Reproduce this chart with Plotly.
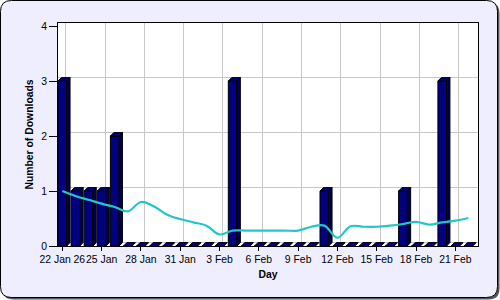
import plotly.graph_objects as go
import pandas as pd

# ---------------- data ----------------
days = pd.date_range("2026-01-22", "2026-02-22", freq="D")
downloads = [3, 1, 1, 1, 2,
             0, 0, 0, 0, 0, 0, 0, 0,
             3,
             0, 0, 0, 0, 0, 0,
             1,
             0, 0, 0, 0, 0,
             1,
             0, 0,
             3,
             0, 0]
trend = [1.00, 0.91, 0.84, 0.77, 0.71, 0.63, 0.80, 0.72, 0.57, 0.49,
         0.43, 0.37, 0.21, 0.28, 0.28, 0.28, 0.28, 0.28, 0.28, 0.35,
         0.37, 0.15, 0.36, 0.35, 0.35, 0.37, 0.40, 0.44, 0.39, 0.43,
         0.46, 0.51]
tick_dates = ["2026-01-22", "2026-01-25", "2026-01-28", "2026-01-31",
              "2026-02-03", "2026-02-06", "2026-02-09", "2026-02-12",
              "2026-02-15", "2026-02-18", "2026-02-21"]
tick_labels = ["22 Jan 26", "25 Jan", "28 Jan", "31 Jan", "3 Feb", "6 Feb",
               "9 Feb", "12 Feb", "15 Feb", "18 Feb", "21 Feb"]
y_ticks = [0, 1, 2, 3, 4]

# ---------------- geometry / style ----------------
L, T, W, H = 58, 23, 420, 223
PX_DAY = 13.1
PX_UNIT = 55.0
DEPTH = 3.4
DAY = pd.Timedelta(days=1)
bar_w = 0.66            # in days
dx = DEPTH / PX_DAY     # in days
dy = DEPTH / PX_UNIT    # in value units
x_lo = days[0] - 0.33 * DAY
x_hi = days[0] + (W / PX_DAY - 0.33) * DAY
y_hi = H / PX_UNIT

FONT = "Liberation Sans, Arial, sans-serif"
NAVY = "#000080"
SIDE = "#00004a"
LINE_C = "#22c8c8"


def fmt(t):
    return t.strftime("%Y-%m-%d %H:%M:%S")


# 3D faces of bars
top_x, top_y, side_x, side_y = [], [], [], []
hw = bar_w / 2 * DAY
ddx = dx * DAY
for d, v in zip(days, downloads):
    xs = [d - hw, d - hw + ddx, d + hw + ddx, d + hw, d - hw]
    top_x += [fmt(t) for t in xs] + [None]
    top_y += [v, v + dy, v + dy, v, v, None]
    if v > 0:
        xs2 = [d + hw, d + hw + ddx, d + hw + ddx, d + hw, d + hw]
        side_x += [fmt(t) for t in xs2] + [None]
        side_y += [0, dy, v + dy, v, 0, None]

fig = go.Figure()
fig.add_trace(go.Scatter(x=[], y=[], xaxis="x2", yaxis="y2", showlegend=False,
                         hoverinfo="skip"))
fig.add_trace(go.Scatter(x=side_x, y=side_y, mode="lines", fill="toself",
                         fillcolor=SIDE, line=dict(color="black", width=1),
                         showlegend=False, hoverinfo="skip"))
fig.add_trace(go.Scatter(x=top_x, y=top_y, mode="lines", fill="toself",
                         fillcolor=NAVY, line=dict(color="black", width=1),
                         showlegend=False, hoverinfo="skip"))
fig.add_trace(go.Bar(x=[fmt(d) for d in days], y=downloads,
                     width=bar_w * 86400000,
                     marker=dict(color=NAVY, line=dict(color="black", width=1)),
                     showlegend=False))
fig.add_trace(go.Scatter(x=[fmt(d) for d in days], y=trend, mode="lines",
                         line=dict(color=LINE_C, width=2.2, shape="spline"),
                         showlegend=False))


def px(x):
    return (x - L) / W


def py(y):
    return (T + H - y) / H


def rrect(x0, y0, x1, y1, r):
    pts = [("M", [(x0 + r, y0)]), ("L", [(x1 - r, y0)]),
           ("Q", [(x1, y0), (x1, y0 + r)]), ("L", [(x1, y1 - r)]),
           ("Q", [(x1, y1), (x1 - r, y1)]), ("L", [(x0 + r, y1)]),
           ("Q", [(x0, y1), (x0, y1 - r)]), ("L", [(x0, y0 + r)]),
           ("Q", [(x0, y0), (x0 + r, y0)])]
    s = ""
    for cmd, ps in pts:
        s += cmd + " ".join(f"{px(a):.5f},{py(b):.5f}" for a, b in ps) + " "
    return s + "Z"


shapes = [
    dict(type="path", xref="paper", yref="paper", layer="below",
         path=rrect(2.5, 2.5, 499.5, 299.5, 11), fillcolor="#555555",
         line=dict(width=0)),
    dict(type="path", xref="paper", yref="paper", layer="below",
         path=rrect(0.5, 0.5, 497.5, 297.5, 11), fillcolor="#eeeeff",
         line=dict(color="black", width=1)),
    dict(type="rect", xref="paper", yref="paper", layer="below",
         x0=0, y0=0, x1=1, y1=1, fillcolor="white", line=dict(width=0)),
]

fig.update_layout(
    width=500, height=300,
    margin=dict(l=L, r=500 - L - W, t=T, b=300 - T - H, pad=0),
    paper_bgcolor="white", plot_bgcolor="white",
    font=dict(family=FONT, size=10.4, color="black"),
    barmode="overlay", shapes=shapes, showlegend=False,
    xaxis=dict(type="date", range=[fmt(x_lo), fmt(x_hi)],
               tickvals=tick_dates, ticktext=tick_labels, tickangle=0,
               ticks="outside", ticklen=4, tickcolor="black",
               showgrid=False, zeroline=False, showline=True,
               linecolor="black", linewidth=1, mirror=True, automargin=False,
               title=dict(text="Day", font=dict(size=10.4, weight="bold"),
                          standoff=6)),
    yaxis=dict(range=[0, y_hi], tickvals=y_ticks, ticks="outside", ticklen=8,
               tickcolor="black", showgrid=False, zeroline=False,
               showline=True, linecolor="black", linewidth=1, mirror=True,
               automargin=False,
               title=dict(text="Number of Downloads",
                          font=dict(size=10.4, weight="bold"), standoff=5)),
    xaxis2=dict(type="date", overlaying="x", anchor="y2",
                range=[fmt(x_lo - ddx), fmt(x_hi - ddx)],
                tickvals=tick_dates, showticklabels=False, ticks="",
                showgrid=True, gridcolor="#c8c8c8", gridwidth=1,
                zeroline=False, showline=False),
    yaxis2=dict(overlaying="y", anchor="x2", range=[-dy, y_hi - dy],
                tickvals=y_ticks, showticklabels=False, ticks="",
                showgrid=True, gridcolor="#c8c8c8", gridwidth=1,
                zeroline=False, showline=False),
)

fig.write_html("out.html")
